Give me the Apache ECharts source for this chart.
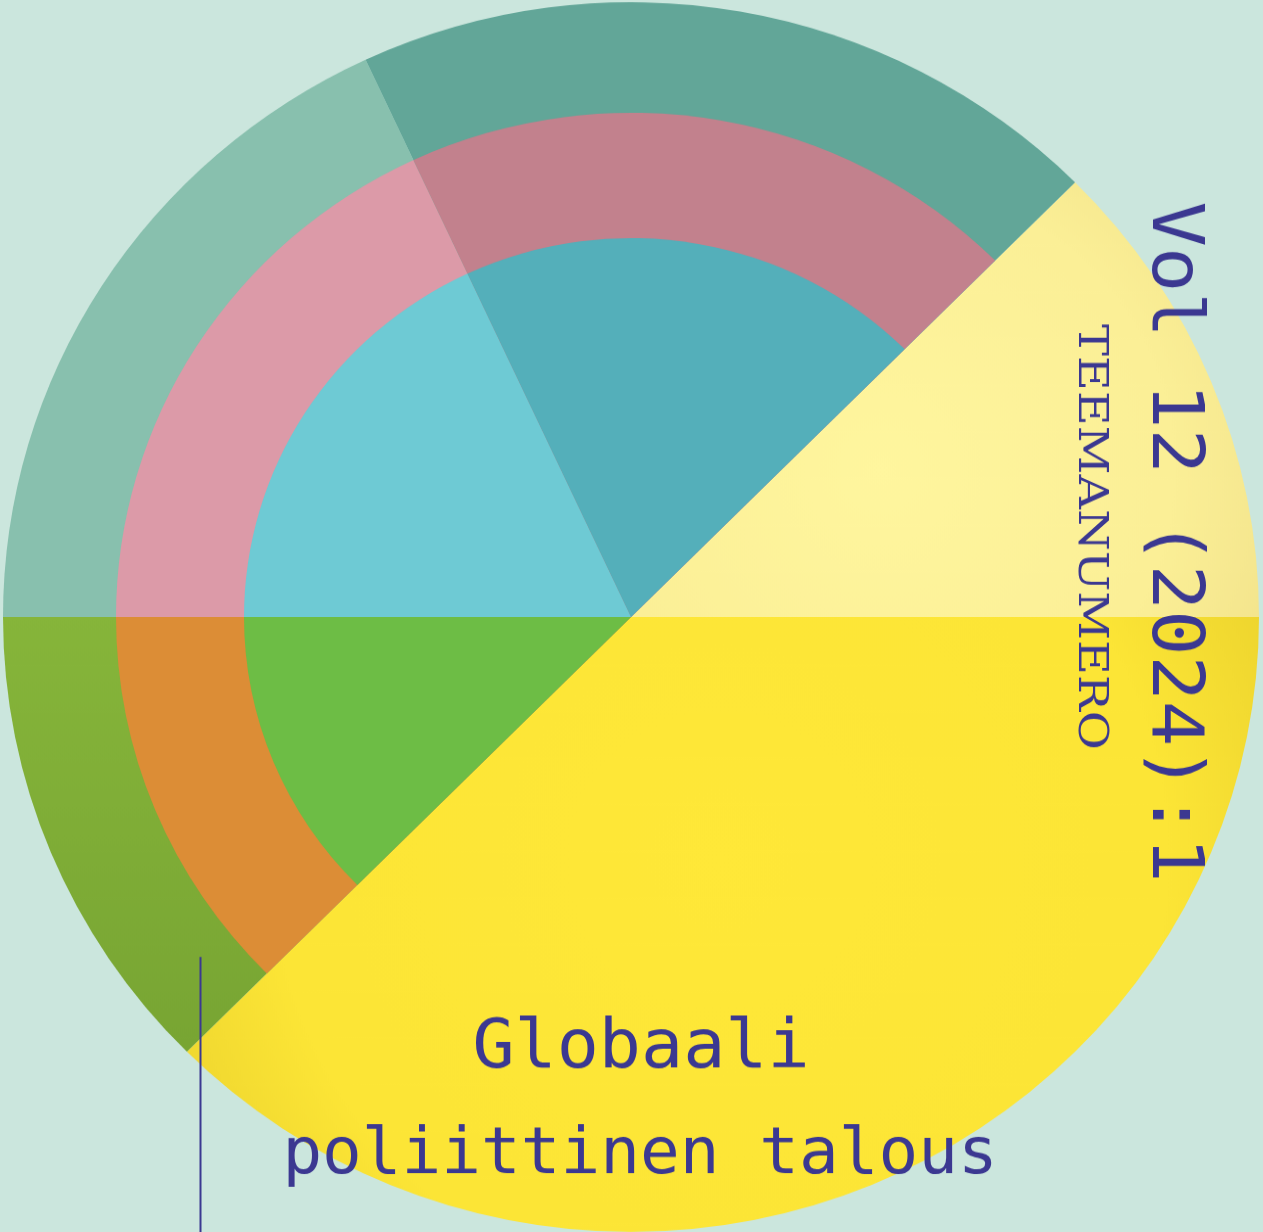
<!DOCTYPE html>
<html>
<head>
<meta charset="utf-8">
<script src="https://cdn.jsdelivr.net/npm/echarts@6/dist/echarts.min.js"></script>
<style>
  html, body { margin: 0; padding: 0; background: #cbe6dd; overflow: hidden; }
  body { width: 1263px; height: 1232px; position: relative; }
  /* kansi on hieman litistetty pystysuunnassa */
  #cover {
    position: absolute; left: 0; top: -40px;
    width: 1263px; height: 1320px;
    transform: scaleY(0.979);
    transform-origin: 631px 657px;
  }
</style>
</head>
<body>
<div id="cover"></div>
<script>
// sektorit myötäpäivään alkaen 45 asteesta
const sectorNames = ["vaaleankeltainen", "keltainen", "vihreä", "vaalea", "tumma"];
const sectorSpans = [45, 135, 45, 65, 70];

const volumeText = "Vol 12 (2024):1";
const themeText = "TEEMANUMERO";
const titleLines = ["Globaali", "poliittinen talous"];

const squash = 0.979;
const cx = 631, cy = 657;
// sivun y -> kaavion y
const py = y => cy + (y - 617) / squash;

const ink = "#3b3891";
const clear = "rgba(0,0,0,0)";

const lightYellow = new echarts.graphic.RadialGradient(880, py(470), 420, [
  { offset: 0, color: "#fff69e" },
  { offset: 0.7, color: "#fbef96" },
  { offset: 1, color: "#f3e48c" }
], true);
const brightYellow = new echarts.graphic.RadialGradient(720, py(860), 640, [
  { offset: 0, color: "#ffe838" },
  { offset: 0.7, color: "#fce536" },
  { offset: 1, color: "#ead12c" }
], true);
const outerGreen = new echarts.graphic.LinearGradient(0, 0, 0, 1, [
  { offset: 0, color: "#86b53a" },
  { offset: 1, color: "#78a533" }
]);

const outerColors = [lightYellow, brightYellow, outerGreen, "#88c0ae", "#62a698"];
const middleColors = [clear, clear, "#dc8d36", "#dc9aa8", "#c2818d"];
const innerColors = [clear, clear, "#6dbd45", "#6ecad4", "#54afba"];

function ring(radius, colors) {
  return {
    type: "pie",
    center: [cx, cy],
    radius: [0, radius],
    startAngle: 45,
    clockwise: true,
    silent: true,
    label: { show: false },
    labelLine: { show: false },
    itemStyle: { borderWidth: 0 },
    emphasis: { disabled: true },
    data: sectorNames.map((n, i) => ({
      name: n,
      value: sectorSpans[i],
      itemStyle: { color: colors[i] }
    }))
  };
}

const chart = echarts.init(document.getElementById("cover"));
chart.setOption({
  backgroundColor: "#cbe6dd",
  animation: false,
  series: [ring(628, outerColors), ring(515, middleColors), ring(387, innerColors)],
  graphic: {
    elements: [
      {
        type: "text",
        z: 100,
        x: 1172, y: py(542),
        rotation: -Math.PI / 2,
        scaleX: 1.07,
        style: {
          text: volumeText,
          fill: ink,
          font: '72px "DejaVu Sans Mono"',
          textAlign: "center",
          textVerticalAlign: "middle"
        }
      },
      {
        type: "text",
        z: 100,
        x: 1090, y: py(537),
        rotation: -Math.PI / 2,
        scaleX: 1.19,
        style: {
          text: themeText,
          fill: ink,
          font: '41px "DejaVu Serif"',
          textAlign: "center",
          textVerticalAlign: "middle"
        }
      },
      {
        type: "text",
        z: 100,
        x: 641, y: py(1050),
        style: {
          text: titleLines[0],
          fill: ink,
          font: '70px "DejaVu Sans Mono"',
          textAlign: "center",
          textVerticalAlign: "middle"
        }
      },
      {
        type: "text",
        z: 100,
        x: 640, y: py(1156),
        style: {
          text: titleLines[1],
          fill: ink,
          font: '66px "DejaVu Sans Mono"',
          textAlign: "center",
          textVerticalAlign: "middle"
        }
      },
      {
        type: "line",
        z: 100,
        shape: { x1: 200.5, y1: py(957), x2: 200.5, y2: py(1240) },
        style: { stroke: ink, lineWidth: 2 }
      }
    ]
  }
});
</script>
</body>
</html>
